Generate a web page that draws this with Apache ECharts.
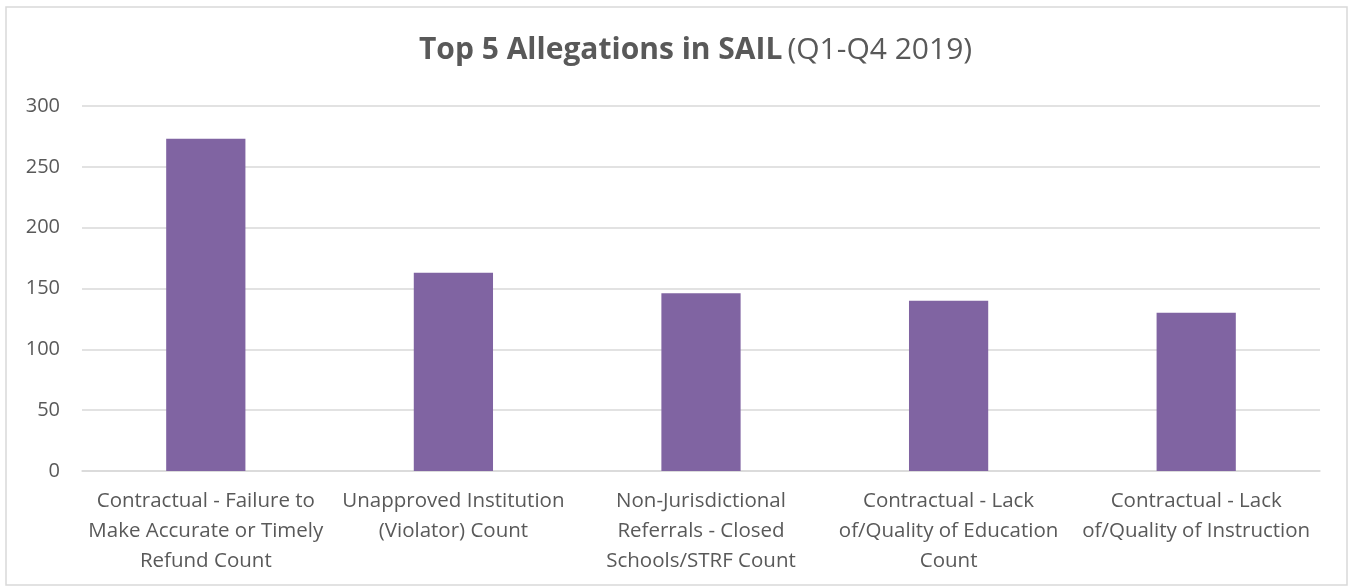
<!DOCTYPE html>
<html>
<head>
<meta charset="utf-8">
<title>Top 5 Allegations in SAIL</title>
<script src="https://cdn.jsdelivr.net/npm/echarts@6/dist/echarts.min.js"></script>
<style>
  html, body { margin: 0; padding: 0; background: #fff; }
  #chart { width: 1351px; height: 588px; }
</style>
</head>
<body>
<div id="chart"></div>
<script>
// categories (x axis labels, line breaks as in the picture)
const categories = [
  'Contractual - Failure to\nMake Accurate or Timely\nRefund Count',
  'Unapproved Institution\n(Violator) Count',
  'Non-Jurisdictional\nReferrals - Closed\nSchools/STRF Count',
  'Contractual - Lack\nof/Quality of Education\nCount',
  'Contractual - Lack\nof/Quality of Instruction'
]
// allegation counts
const counts = [273, 163, 146, 140, 130]
// y axis ticks
const yMin = 0
const yMax = 300
const yStep = 50

const FONT = '"Open Sans", Lato, sans-serif'

const myChart = echarts.init(document.getElementById('chart'))

const option = {
  animation: false,
  backgroundColor: '#fff',
  title: {
    text: '{b|Top 5 Allegations in SAIL} {n|(Q1-Q4 2019)}',
    left: 414,
    top: 30,
    textStyle: {
      rich: {
        b: { fontFamily: FONT, fontSize: 30, fontWeight: 'bold', color: '#595959' },
        n: { fontFamily: FONT, fontSize: 30, fontWeight: 'normal', color: '#595959' }
      }
    }
  },
  graphic: [
    {
      type: 'rect',
      shape: { x: 6, y: 7, width: 1341, height: 578 },
      style: { fill: 'none', stroke: '#d9d9d9', lineWidth: 1.5 },
      silent: true
    }
  ],
  grid: {
    left: 82,
    right: 31,
    top: 106,
    bottom: 117
  },
  xAxis: {
    type: 'category',
    data: categories,
    axisTick: { show: false },
    axisLine: { show: true, lineStyle: { color: '#d9d9d9', width: 1.5 } },
    axisLabel: {
      interval: 0,
      margin: 15,
      fontFamily: FONT,
      fontSize: 20.5,
      lineHeight: 30,
      color: '#595959',
      align: 'center'
    }
  },
  yAxis: {
    type: 'value',
    min: yMin,
    max: yMax,
    interval: yStep,
    axisLine: { show: false },
    axisTick: { show: false },
    splitLine: { lineStyle: { color: '#d9d9d9', width: 1.5 } },
    axisLabel: {
      margin: 22,
      fontFamily: FONT,
      fontSize: 20,
      color: '#595959'
    }
  },
  series: [
    {
      name: 'Allegations',
      type: 'bar',
      data: counts,
      barWidth: '32%',
      itemStyle: { color: '#8064a2' }
    }
  ]
}

myChart.setOption(option)
</script>
</body>
</html>
